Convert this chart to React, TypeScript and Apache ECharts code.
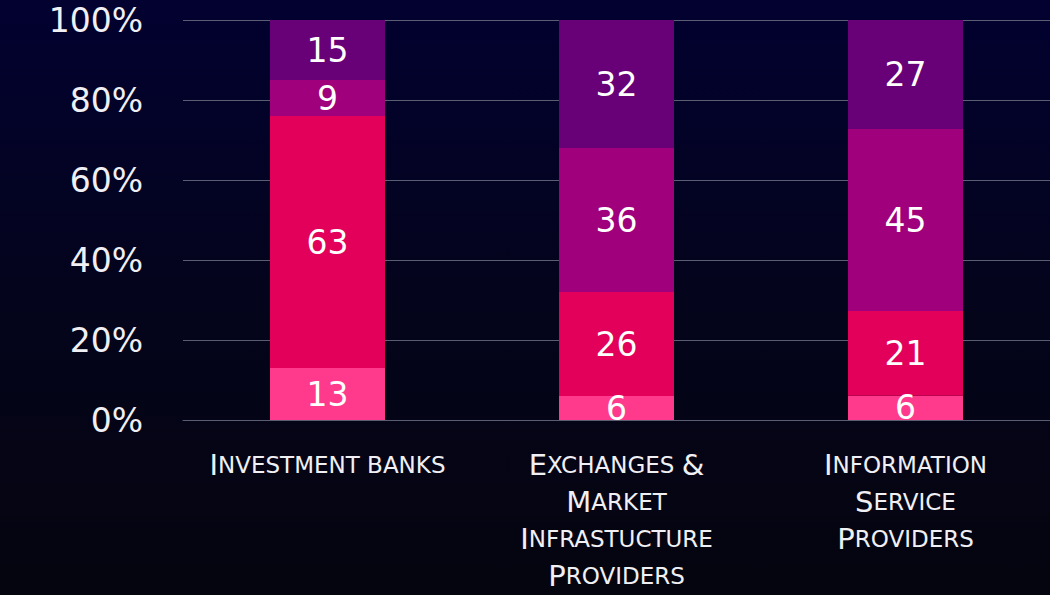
import React, { useEffect, useRef } from "react";
import * as echarts from "echarts";

const categories = [
  "Investment banks",
  "Exchanges &\nMarket\nInfrastucture\nProviders",
  "Information\nService\nProviders",
];
const seriesNames = ["A", "B", "C", "D"];
const seriesA = [13, 6, 6];
const seriesB = [63, 26, 21];
const seriesC = [9, 36, 45];
const seriesD = [15, 32, 27];
const yTicks = [0, 20, 40, 60, 80, 100];
const colors = ["#FF3A8C", "#E3005A", "#A0007C", "#680078"];

function smallCaps(text: string): string {
  return text
    .split("\n")
    .map((line) => {
      let out = "";
      let run = "";
      let runBig: boolean | null = null;
      const flush = () => {
        if (run.length) out += `{${runBig ? "b" : "s"}|${run}}`;
        run = "";
      };
      for (const ch of line) {
        const isBig = !(ch >= "a" && ch <= "z") && ch !== " ";
        const big = ch === " " ? runBig ?? false : isBig;
        if (runBig !== null && big !== runBig) flush();
        runBig = big;
        run += ch.toUpperCase();
      }
      flush();
      return out;
    })
    .join("\n");
}

export default function App() {
  const ref = useRef<HTMLDivElement>(null);
  useEffect(() => {
    if (!ref.current) return;
    const chart = echarts.init(ref.current, null, { renderer: "svg" });
    const all = [seriesA, seriesB, seriesC, seriesD];
    const totals = categories.map((_, i) => all.reduce((s, arr) => s + arr[i], 0));
    chart.setOption({
      animation: false,
      backgroundColor: new echarts.graphic.LinearGradient(0, 0, 0, 1, [
        { offset: 0, color: "#020130" },
        { offset: 0.5, color: "#04041c" },
        { offset: 1, color: "#05050f" },
      ]),
      grid: { left: 183, right: 0, top: 20, bottom: 175, containLabel: false },
      xAxis: {
        type: "category",
        data: categories,
        axisTick: { show: false },
        axisLine: { show: true, lineStyle: { color: "#5a5e72", width: 1 } },
        axisLabel: {
          interval: 0,
          margin: 26,
          color: "#f0f0f4",
          formatter: (v: string) => smallCaps(v),
          rich: {
            b: { fontFamily: "DejaVu Sans", fontSize: 29, color: "#f0f0f4", lineHeight: 37 },
            s: { fontFamily: "DejaVu Sans", fontSize: 23, color: "#f0f0f4", lineHeight: 37 },
          },
        },
      },
      yAxis: {
        type: "value",
        min: 0,
        max: 100,
        interval: 20,
        axisLine: { show: false },
        axisTick: { show: false },
        splitLine: { lineStyle: { color: "#5a5e72", width: 1 } },
        axisLabel: {
          margin: 40,
          color: "#f0f0f4",
          fontFamily: "DejaVu Sans",
          fontSize: 33,
          formatter: (v: number) => (yTicks.includes(v) ? `${v}%` : ""),
        },
      },
      series: all.map((arr, si) => ({
        name: seriesNames[si],
        type: "bar",
        stack: "total",
        barWidth: 115,
        itemStyle: { color: colors[si] },
        label: {
          show: true,
          position: "inside",
          color: "#ffffff",
          fontFamily: "DejaVu Sans",
          fontSize: 33,
          formatter: (p: any) => String(arr[p.dataIndex]),
        },
        data: arr.map((v, i) => (v / totals[i]) * 100),
      })),
    });
    return () => chart.dispose();
  }, []);
  return (
    <div
      ref={ref}
      style={{ position: "fixed", left: 0, top: 0, width: 1050, height: 595 }}
    />
  );
}
